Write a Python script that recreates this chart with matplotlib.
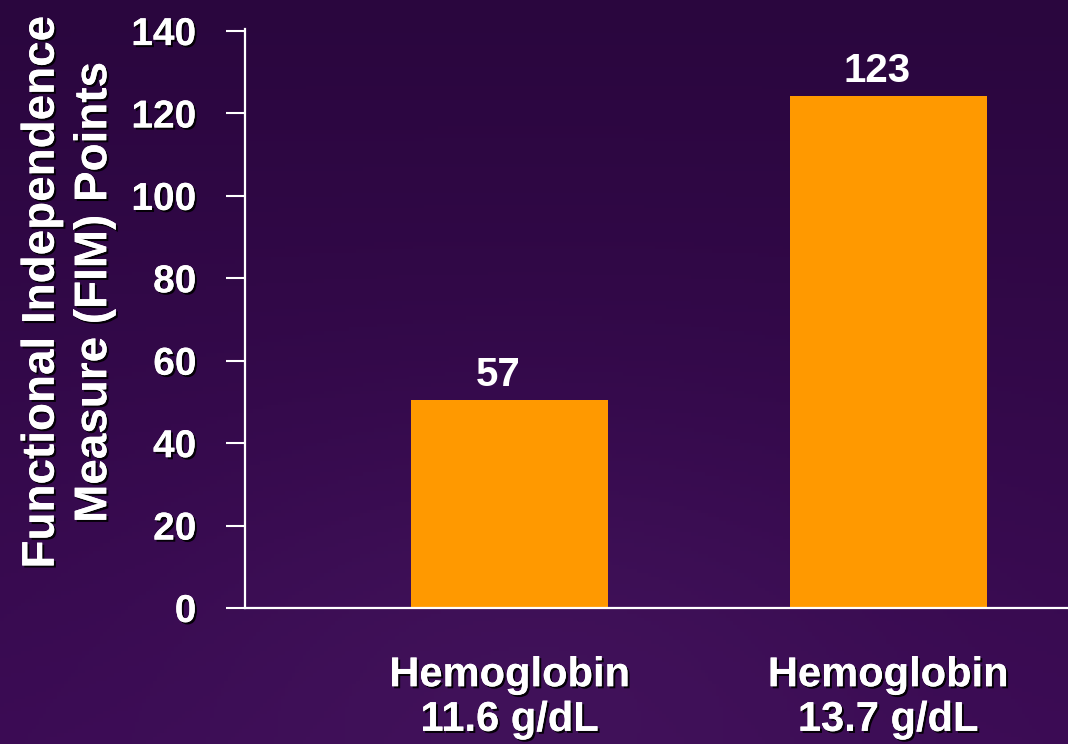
import numpy as np
import matplotlib
matplotlib.use("Agg")
import matplotlib.pyplot as plt
import matplotlib.patheffects as pe

# ---- data ----
categories = ["Hemoglobin\n11.6 g/dL", "Hemoglobin\n13.7 g/dL"]
bar_heights = [50.5, 124.3]          # heights as drawn in the reference
value_labels = ["57", "123"]         # printed labels
y_ticks = [0, 20, 40, 60, 80, 100, 120, 140]
y_label = "Functional Independence\nMeasure (FIM) Points"

plt.rcParams['font.family'] = ['Liberation Sans', 'DejaVu Sans']

W, H, DPI = 1068, 744, 100
fig = plt.figure(figsize=(W / DPI, H / DPI), dpi=DPI)

# background gradient
bg = fig.add_axes([0, 0, 1, 1], zorder=-10)
bg.set_axis_off()
ny, nx = 200, 300
yy, xx = np.mgrid[0:1:ny * 1j, 0:1:nx * 1j]   # yy=0 at top
top = np.array([0x2a, 0x06, 0x3e]) / 255
bot = np.array([0x3b, 0x0b, 0x54]) / 255
img = top[None, None, :] * (1 - yy[..., None]) + bot[None, None, :] * yy[..., None]
hl = np.exp(-(((xx - 0.5) / 0.35) ** 2 + ((yy - 0.95) / 0.35) ** 2))
light = np.array([0x45, 0x16, 0x5e]) / 255
img = img * (1 - 0.6 * hl[..., None]) + light[None, None, :] * 0.6 * hl[..., None]
bg.imshow(img, aspect='auto', extent=[0, 1, 0, 1], origin='upper')
bg.set_xlim(0, 1)
bg.set_ylim(0, 1)

shadow = [pe.withSimplePatchShadow(offset=(1.5, -1.5), shadow_rgbFace='black', alpha=0.9),
          pe.Normal()]

ax = fig.add_axes([245 / W, 1 - 608 / H, 1 - 245 / W, (608 - 29) / H])
ax.patch.set_alpha(0)
x = np.arange(len(categories))
ax.bar(x, bar_heights, width=0.52, color='#ff9900', zorder=2)
for xi, h, lab in zip(x, bar_heights, value_labels):
    ax.text(xi - 0.03, h + 1.5, lab, ha='center', va='bottom', color='white',
            fontsize=29, fontweight='bold')

ax.set_xlim(-0.699, 1.475)
ax.set_ylim(0, 140.5)
ax.set_yticks(y_ticks)
ax.set_yticklabels([str(t) for t in y_ticks])
ax.set_xticks(x)
ax.set_xticklabels(categories)

for s in ['top', 'right']:
    ax.spines[s].set_visible(False)
for s in ['left', 'bottom']:
    ax.spines[s].set_color('white')
    ax.spines[s].set_linewidth(1.6)

ax.tick_params(axis='y', colors='white', length=14, width=1.5, pad=21,
               labelsize=28)
ax.tick_params(axis='x', colors='white', length=0, pad=34, labelsize=30)
for t in ax.get_yticklabels() + ax.get_xticklabels():
    t.set_fontweight('bold')
    t.set_path_effects(shadow)
for t in ax.get_xticklabels():
    t.set_linespacing(1.15)

fig.text(68 / W, 1 - 292 / H, y_label, rotation=90, ha='center', va='center',
         color='white', fontsize=33, fontweight='bold', linespacing=1.25,
         path_effects=shadow)

fig.savefig('out.png', dpi=DPI)
